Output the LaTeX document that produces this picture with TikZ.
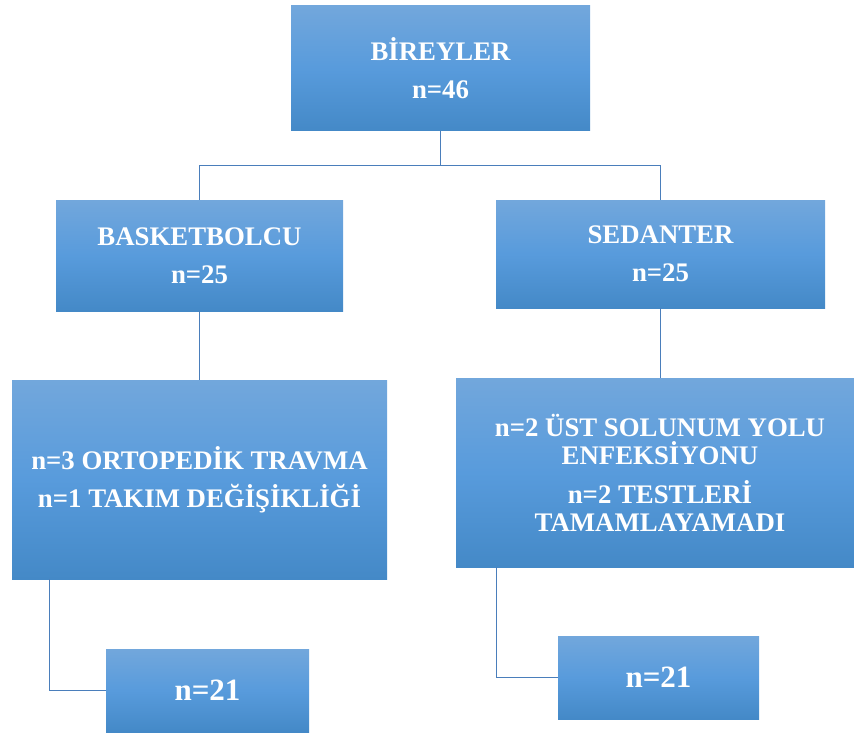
\documentclass[tikz,border=0pt]{standalone}
\usepackage{fontspec}
\setmainfont{Liberation Serif}
\usepackage{tikz}
\usetikzlibrary{calc, positioning}
\definecolor{boxtop}{RGB}{114,167,220}
\definecolor{boxmid}{RGB}{88,155,220}
\definecolor{boxbot}{RGB}{68,137,199}
\definecolor{linkblue}{RGB}{74,126,187}

\begin{document}
\begin{tikzpicture}[x=1pt, y=-1pt]
		% Styles for boxes and links
		\tikzset{box/.style={top color=boxtop, bottom color=boxbot, middle color=boxmid, draw=none, inner sep=0pt, align=center, text=white, font=\fontsize{26.8}{38}\selectfont\bfseries}}
		\tikzset{bignum/.style={box, font=\fontsize{31}{36}\selectfont\bfseries}}
		\tikzset{link/.style={draw=linkblue, line width=1.1pt}}
		
		\useasboundingbox (0,0) rectangle (854,733);
		
		% Top level
		\node[box, minimum width=299pt, minimum height=125pt] (bireyler) at (440.5,68.5) {BİREYLER\\n=46};
		
		% Groups
		\node[box, minimum width=287pt, minimum height=111pt] (basket) at (199.5,255.5) {BASKETBOLCU\\n=25};
		\node[box, minimum width=329pt, minimum height=108pt] (sedanter) at (660.5,254) {SEDANTER\\n=25};
		
		% Exclusions
		\node[box, minimum width=375pt, minimum height=199pt] (basketout) at (199.5,479.5) {n=3 ORTOPEDİK TRAVMA\\n=1 TAKIM DEĞİŞİKLİĞİ};
		\node[box, minimum width=408pt, minimum height=189pt] (sedout) at (660,472.5) {n=2 ÜST SOLUNUM YOLU\\[-10pt]ENFEKSİYONU\\[1pt]n=2 TESTLERİ\\[-10pt]TAMAMLAYAMADI};
		
		% Final counts
		\node[bignum, minimum width=203pt, minimum height=83pt] (basketfin) at (207.5,690.5) {n=21};
		\node[bignum, minimum width=201pt, minimum height=83pt] (sedfin) at (658.5,677.5) {n=21};
		
		% Links
		\draw[link] (bireyler.south) -- ++(0,34) coordinate (split);
		\draw[link] (split) -| (basket.north);
		\draw[link] (split) -| (sedanter.north);
		\draw[link] (basket.south) -- (basket.south |- basketout.north);
		\draw[link] (sedanter.south) -- (sedanter.south |- sedout.north);
		\draw[link] ([xshift=38pt]basketout.south west) |- (basketfin.west);
		\draw[link] ([xshift=41pt]sedout.south west) |- (sedfin.west);
	\end{tikzpicture}
\end{document}
